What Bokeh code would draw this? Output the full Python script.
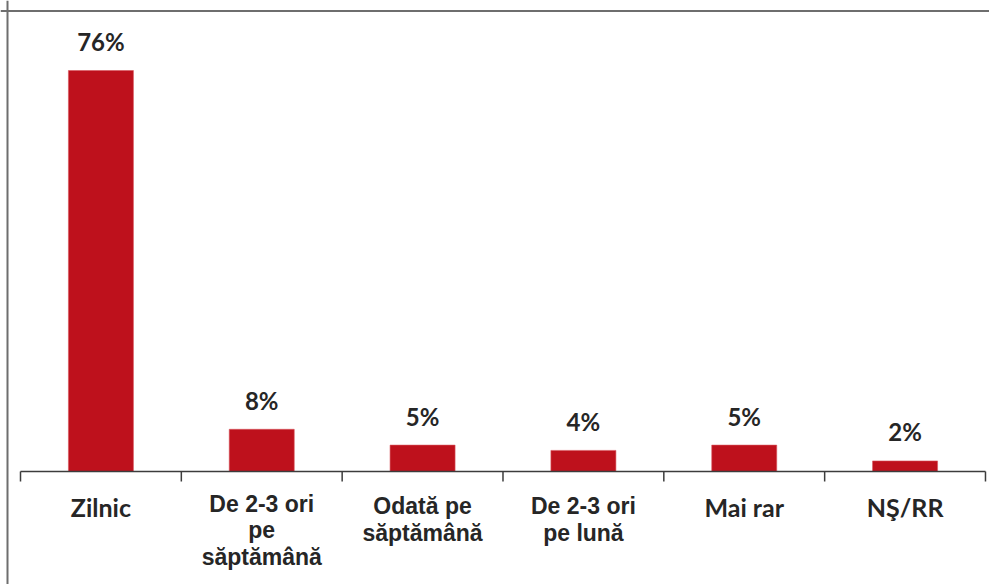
from bokeh.plotting import figure
from bokeh.models import Range1d, Span, ColumnDataSource
from bokeh.core.properties import value
from bokeh.embed import file_html
from bokeh.resources import INLINE

categories = ["Zilnic", "De 2-3 ori pe săptămână", "Odată pe săptămână",
              "De 2-3 ori pe lună", "Mai rar", "NŞ/RR"]
values = [76, 8, 5, 4, 5, 2]
value_labels = ["76%", "8%", "5%", "4%", "5%", "2%"]
label_lines = [["Zilnic"], ["De 2-3 ori", "pe", "săptămână"], ["Odată pe", "săptămână"],
               ["De 2-3 ori", "pe lună"], ["Mai rar"], ["NŞ/RR"]]

# styling
W, H = 989, 584
PX_PER_UNIT = 5.276          # pixels per percentage point
CAT_PX = 160.83              # pixels per category
BASE_PX = 471                # baseline offset from frame top
AXIS_LEFT_PX = 20            # axis start offset from frame left
RED = "#BE111C"
TXT = "#262626"
AX = "#3C3C3C"
calibri_like = {0, 4, 5}

n = len(categories)
x0 = -AXIS_LEFT_PX / CAT_PX
x1 = x0 + W / CAT_PX
y1 = BASE_PX / PX_PER_UNIT
y0 = -(H - BASE_PX) / PX_PER_UNIT

p = figure(width=W, height=H, output_backend="svg", toolbar_location=None,
           x_range=Range1d(x0, x1), y_range=Range1d(y0, y1),
           min_border=0, min_border_left=0, min_border_right=0,
           min_border_top=0, min_border_bottom=0)
p.axis.visible = False
p.grid.visible = False
p.outline_line_color = None
p.background_fill_color = "white"
p.border_fill_color = "white"

xs = [i + 0.5 for i in range(n)]
src = ColumnDataSource(dict(x=xs, top=values, lab=value_labels))
p.vbar(x="x", top="top", bottom=0, width=65 / CAT_PX, source=src,
       fill_color=RED, line_color="#D8555C", line_width=0.6)

# baseline + ticks
p.segment(x0=[0], y0=[0], x1=[n], y1=[0], line_color=AX, line_width=1.5)
tick_len = 10 / PX_PER_UNIT
p.segment(x0=list(range(n + 1)), y0=[0] * (n + 1), x1=list(range(n + 1)),
          y1=[-tick_len] * (n + 1), line_color=AX, line_width=1.5)

# value labels
p.text(x="x", y="top", text="lab", source=src, text_align="center",
       text_baseline="alphabetic", y_offset=-29, text_color=TXT,
       text_font=value("Lato"), text_font_style="bold", text_font_size="24px")

# category labels
for i, lines in enumerate(label_lines):
    k = len(lines)
    first = 46 - 2.5 * (k - 1)
    if i in calibri_like:
        font, size, shift = "Lato", "25px", -11
    else:
        font, size, shift = "Liberation Sans", "23px", -9
    for j, line in enumerate(lines):
        p.text(x=[xs[i]], y=[0], text=[line], text_align="center",
               text_baseline="alphabetic", y_offset=first + shift + 26.5 * j,
               text_color=TXT, text_font=value(font), text_font_style="bold",
               text_font_size=size)

# chart-area border (top and left visible)
p.add_layout(Span(location=(BASE_PX - 10.5) / PX_PER_UNIT, dimension="width",
                  line_color="#6E6E6E", line_width=2))
p.add_layout(Span(location=x0 + 7 / CAT_PX, dimension="height",
                  line_color="#6E6E6E", line_width=2))

open("out.html", "w").write(file_html(p, INLINE))
